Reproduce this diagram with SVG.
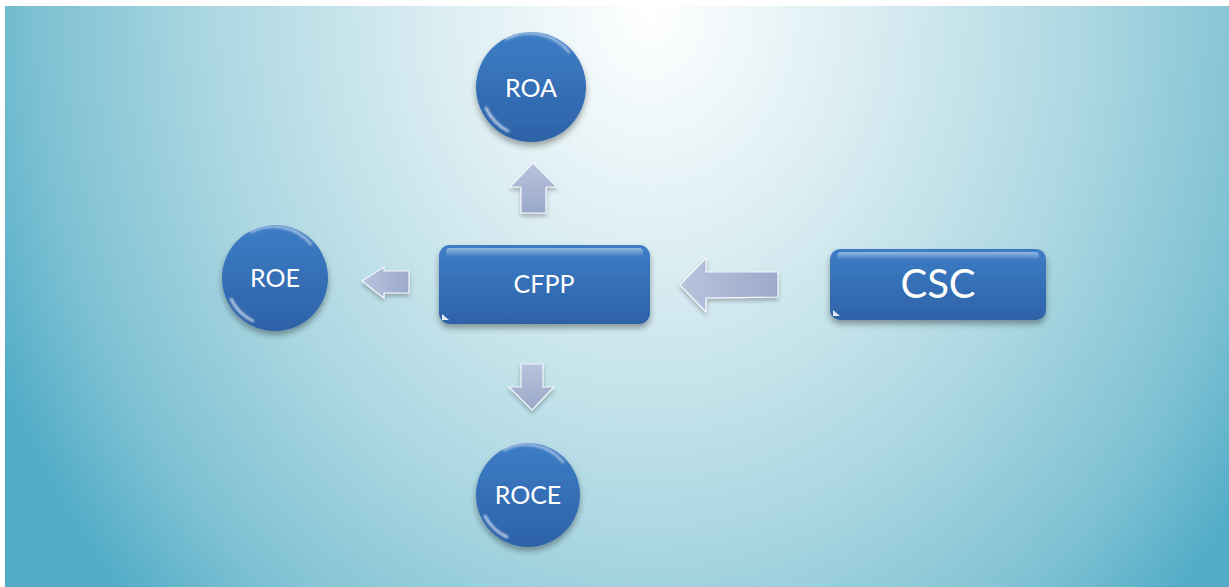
<svg xmlns="http://www.w3.org/2000/svg" width="1229" height="587" viewBox="0 0 1229 587">
<defs>
  <radialGradient id="bg" gradientUnits="userSpaceOnUse" cx="650" cy="10" r="720" gradientTransform="translate(650 10) scale(1 1.2) translate(-650 -10)">
    <stop offset="0" stop-color="#FFFFFF"/>
    <stop offset="0.3" stop-color="#DAEDF2"/>
    <stop offset="0.62" stop-color="#AAD6E1"/>
    <stop offset="0.85" stop-color="#7EC1D3"/>
    <stop offset="1" stop-color="#52ACC7"/>
  </radialGradient>
  <linearGradient id="nodeFill" x1="0" y1="0" x2="0" y2="1">
    <stop offset="0" stop-color="#3D7DC6"/>
    <stop offset="1" stop-color="#2D62A7"/>
  </linearGradient>
  <linearGradient id="topGloss" x1="0" y1="0" x2="0" y2="1">
    <stop offset="0" stop-color="#FFFFFF" stop-opacity="0.45"/>
    <stop offset="1" stop-color="#FFFFFF" stop-opacity="0"/>
  </linearGradient>
  <linearGradient id="arrowFill" x1="0" y1="0" x2="0" y2="1">
    <stop offset="0" stop-color="#B8C3DD"/>
    <stop offset="1" stop-color="#9AA8C9"/>
  </linearGradient>
  <linearGradient id="arrowFillH" x1="0" y1="0" x2="1" y2="0">
    <stop offset="0" stop-color="#B8C3DD"/>
    <stop offset="1" stop-color="#9CA9CA"/>
  </linearGradient>
  <filter id="shadow" x="-20%" y="-20%" width="140%" height="150%">
    <feGaussianBlur in="SourceAlpha" stdDeviation="3"/>
    <feOffset dx="0" dy="4" result="b"/>
    <feComponentTransfer><feFuncA type="linear" slope="0.35"/></feComponentTransfer>
    <feMerge><feMergeNode/><feMergeNode in="SourceGraphic"/></feMerge>
  </filter>
  <filter id="ashadow" x="-30%" y="-30%" width="160%" height="160%">
    <feGaussianBlur in="SourceAlpha" stdDeviation="2"/>
    <feOffset dx="0" dy="3"/>
    <feComponentTransfer><feFuncA type="linear" slope="0.25"/></feComponentTransfer>
    <feMerge><feMergeNode/><feMergeNode in="SourceGraphic"/></feMerge>
  </filter>
  <filter id="soft" x="-20%" y="-20%" width="140%" height="140%">
    <feGaussianBlur stdDeviation="0.8"/>
  </filter>
</defs>
<style>
  .circ { fill: url(#nodeFill); filter: url(#shadow); }
  .box { fill: url(#nodeFill); filter: url(#shadow); }
  .lbl { font-family: Lato, "Open Sans", "Liberation Sans", sans-serif; fill: #FFFFFF; text-anchor: middle; }
  .hl { fill: none; stroke: #FFFFFF; stroke-linecap: round; filter: url(#soft); }
  .arrow { filter: url(#ashadow); stroke: #F4F6FB; stroke-width: 1.2; stroke-linejoin: miter; }
</style>
<rect x="5" y="6" width="1224" height="581" fill="url(#bg)"/>

<g id="connectors">
  <path class="arrow" fill="url(#arrowFill)" d="M533,163 L557,187 L546,187 L546,213 L521,213 L521,187 L510,187 Z"/>
  <path class="arrow" fill="url(#arrowFillH)" d="M362,281 L384,267 L384,271 L409,271 L409,293 L384,293 L384,298 Z"/>
  <path class="arrow" fill="url(#arrowFill)" d="M521,364 L543,364 L543,387 L554,387 L532,410 L509,387 L521,387 Z"/>
  <path class="arrow" fill="url(#arrowFillH)" d="M680,285 L706,258 L706,272 L778,272 L778,297 L706,298 L706,312 Z"/>
</g>

<g id="node-roa">
  <circle class="circ" cx="531" cy="87" r="55"/>
  <path class="hl" stroke-width="2.5" stroke-opacity="0.55" d="M506,39 A51,51 0 0 1 569,52"/>
  <path class="hl" stroke-width="2.5" stroke-opacity="0.75" d="M486,108 A50,50 0 0 0 508,131"/>
  <text class="lbl" x="531" y="97" font-size="25">ROA</text>
</g>

<g id="node-roe">
  <circle class="circ" cx="275" cy="278" r="53"/>
  <path class="hl" stroke-width="2.5" stroke-opacity="0.55" d="M251,232 A49,49 0 0 1 311,244"/>
  <path class="hl" stroke-width="2.5" stroke-opacity="0.75" d="M231,299 A48,48 0 0 0 253,321"/>
  <text class="lbl" x="275" y="287" font-size="25">ROE</text>
</g>

<g id="node-roce">
  <circle class="circ" cx="528" cy="495" r="52"/>
  <path class="hl" stroke-width="2.5" stroke-opacity="0.55" d="M504,450 A48,48 0 0 1 563,462"/>
  <path class="hl" stroke-width="2.5" stroke-opacity="0.75" d="M485,516 A47,47 0 0 0 507,537"/>
  <text class="lbl" x="528" y="504" font-size="25">ROCE</text>
</g>

<g id="node-cfpp">
  <rect class="box" x="439" y="245" width="211" height="79" rx="11"/>
  <rect x="446" y="248" width="197" height="9" rx="4" fill="url(#topGloss)"/>
  <path class="hl" stroke-width="2" stroke-opacity="0.8" d="M645,258 L645,312"/>
  <path d="M442,314 L442,320 L449,320 Z" fill="#FFFFFF" fill-opacity="0.85"/>
  <text class="lbl" x="544" y="293" font-size="25">CFPP</text>
</g>

<g id="node-csc">
  <rect class="box" x="830" y="249" width="216" height="71" rx="10"/>
  <rect x="837" y="252" width="202" height="8" rx="4" fill="url(#topGloss)"/>
  <path class="hl" stroke-width="2" stroke-opacity="0.8" d="M1041,261 L1041,310"/>
  <path d="M833,310 L833,316 L840,316 Z" fill="#FFFFFF" fill-opacity="0.85"/>
  <text class="lbl" x="938" y="298" font-size="40">CSC</text>
</g>
</svg>
